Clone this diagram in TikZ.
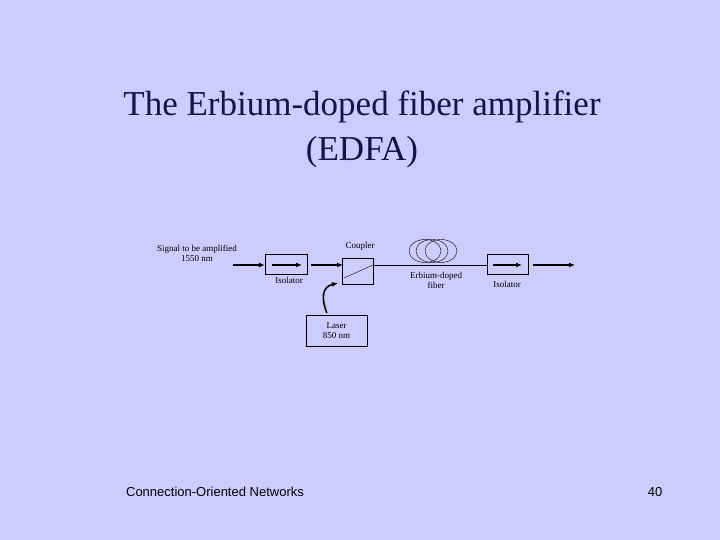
\documentclass[tikz,border=0pt]{standalone}
\usepackage{fontspec}
\setmainfont{Liberation Serif}
\setsansfont{Liberation Sans}
\begin{document}
\begin{tikzpicture}[x=1pt,y=-1pt,
  lbl/.style={font=\fontsize{9}{10}\selectfont,align=center,inner sep=0},
  thick arrow/.style={line width=1.6pt,-{Latex[length=6pt,width=5pt]}}]
\usetikzlibrary{arrows.meta}
\fill[fill={rgb,255:red,204;green,204;blue,255}] (0,0) rectangle (720,540);
\useasboundingbox (0,0) rectangle (720,540);
\node[font=\fontsize{35}{45}\selectfont,text={rgb,255:red,20;green,20;blue,70},align=center] (title) at (362,129) {The Erbium-doped fiber amplifier\\(EDFA)};
\node[font=\sffamily\fontsize{13}{16}\selectfont] (foot) at (215,492) {Connection-Oriented Networks};
\node[font=\sffamily\fontsize{13}{16}\selectfont] (page) at (655,492) {40};
% boxes
\node[draw,thin,minimum width=42,minimum height=20,inner sep=0] (iso1) at (286,264) {};
\node[draw,thin,minimum width=31,minimum height=26,inner sep=0] (coup) at (358,271) {};
\node[draw,thin,minimum width=41,minimum height=20,inner sep=0] (iso2) at (507.5,264) {};
\node[draw,thin,minimum width=61,minimum height=31,inner sep=0,lbl,align=center] (laser) at (336.5,330.5) {Laser\\850 nm};
\coordinate (in) at (233,265);
\coordinate (out) at (575,265);
\coordinate (cin) at (343,265);
\coordinate (cout) at (373,265);
\coordinate (i2in) at (iso2.west|-cout);
% arrows
\draw[thick arrow] (in) -- (iso1.west|-in);
\draw[thick arrow] (311,265) -- (cin);
\draw[thick arrow] (272,265) -- (302,265);
\draw[thick arrow] (493,265) -- (522,265);
\draw[thick arrow] (533,265) -- (out);
\draw[thin] (cout) -- (i2in);
\draw[thin] (344,278) -- (373,265);
\draw[line width=1.6pt,-{Latex[length=6pt,width=5pt]}] (laser.north west) ++(21,-2) .. controls (321,298) and (322,287) .. (338,283);
% fiber coils
\draw[thin] (425,251) ellipse (16 and 11.5);
\draw[thin] (432,251) ellipse (16 and 11.5);
\draw[thin] (441,251) ellipse (16 and 11.5);
% labels
\node[lbl] (l1) at (197,253) {Signal to be amplified\\1550 nm};
\node[lbl] (l2) at (289,280) {Isolator};
\node[lbl] (l3) at (360,246) {Coupler};
\node[lbl] (l4) at (436,280) {Erbium-doped\\fiber};
\node[lbl] (l5) at (507,284) {Isolator};
\end{tikzpicture}
\end{document}
